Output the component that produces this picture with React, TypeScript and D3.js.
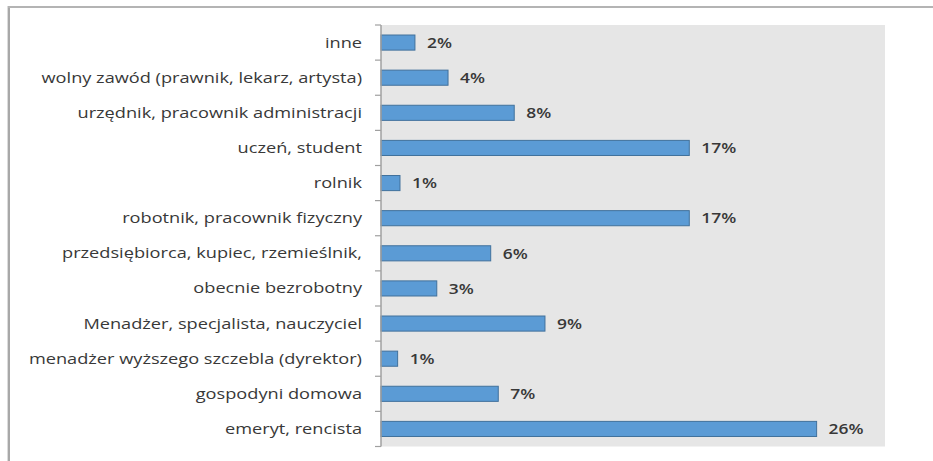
import React from "react";
import * as d3 from "d3";

const categories = [
  "inne",
  "wolny zawód (prawnik, lekarz, artysta)",
  "urzędnik, pracownik administracji",
  "uczeń, student",
  "rolnik",
  "robotnik, pracownik fizyczny",
  "przedsiębiorca, kupiec, rzemieślnik,",
  "obecnie bezrobotny",
  "Menadżer, specjalista, nauczyciel",
  "menadżer wyższego szczebla (dyrektor)",
  "gospodyni domowa",
  "emeryt, rencista",
];

const values = [2.02, 3.99, 7.93, 18.35, 1.13, 18.35, 6.53, 3.32, 9.76, 0.99, 6.98, 25.93];

const valueLabels = ["2%", "4%", "8%", "17%", "1%", "17%", "6%", "3%", "9%", "1%", "7%", "26%"];

const xDomainMax = 30;

export default function App() {
  const W = 933;
  const H = 461;
  const plotLeft = 381;
  const plotRight = 885;
  const plotTop = 25;
  const plotBottom = 446.5;

  const x = d3.scaleLinear().domain([0, xDomainMax]).range([plotLeft, plotRight]);
  const y = d3
    .scaleBand<string>()
    .domain(categories)
    .range([plotTop, plotBottom])
    .paddingInner(0.57)
    .paddingOuter(0.285);
  const step = y.step();
  const ticks = d3.range(categories.length + 1).map((i) => plotTop + i * step);

  const font = "'Open Sans', 'Noto Sans', sans-serif";
  const catScale = 1.3;
  const valScale = 1.2;

  return (
    <div style={{ position: "absolute", left: 0, top: 0 }}>
      <svg width={W} height={H} style={{ display: "block" }}>
        <rect x={0} y={0} width={W} height={H} fill="#ffffff" />
        {/* outer frame */}
        <line x1={8.8} x2={8.8} y1={6} y2={H} stroke="#a8a8a8" strokeWidth={2.4} />
        <line x1={8} x2={W} y1={7} y2={7} stroke="#b4b4b4" strokeWidth={2} />
        {/* plot area */}
        <rect x={plotLeft} y={plotTop} width={plotRight - plotLeft} height={plotBottom - plotTop} fill="#e6e6e6" />
        {/* bars */}
        {categories.map((c, i) => (
          <rect
            key={c}
            x={x(0)}
            y={y(c) as number}
            width={x(values[i]) - x(0)}
            height={y.bandwidth()}
            fill="#5b9bd5"
            stroke="#41719c"
            strokeWidth={1}
          />
        ))}
        {/* axis */}
        <line x1={plotLeft} x2={plotLeft} y1={plotTop} y2={plotBottom} stroke="#a0a0a0" strokeWidth={1.5} />
        {ticks.map((t, i) => (
          <line key={i} x1={plotLeft - 6} x2={plotLeft} y1={t} y2={t} stroke="#a0a0a0" strokeWidth={1.2} />
        ))}
        {/* category labels */}
        {categories.map((c) => (
          <text
            key={c}
            transform={`translate(362,${(y(c) as number) + y.bandwidth() / 2}) scale(${catScale},1)`}
            dy="0.36em"
            textAnchor="end"
            fontFamily={font}
            fontSize={14}
            fill="#383838"
          >
            {c}
          </text>
        ))}
        {/* value labels */}
        {categories.map((c, i) => (
          <text
            key={c}
            transform={`translate(${x(values[i]) + 12},${(y(c) as number) + y.bandwidth() / 2}) scale(${valScale},1)`}
            dy="0.36em"
            textAnchor="start"
            fontFamily={font}
            fontSize={14.5}
            fontWeight={600}
            fill="#383838"
          >
            {valueLabels[i]}
          </text>
        ))}
      </svg>
    </div>
  );
}
